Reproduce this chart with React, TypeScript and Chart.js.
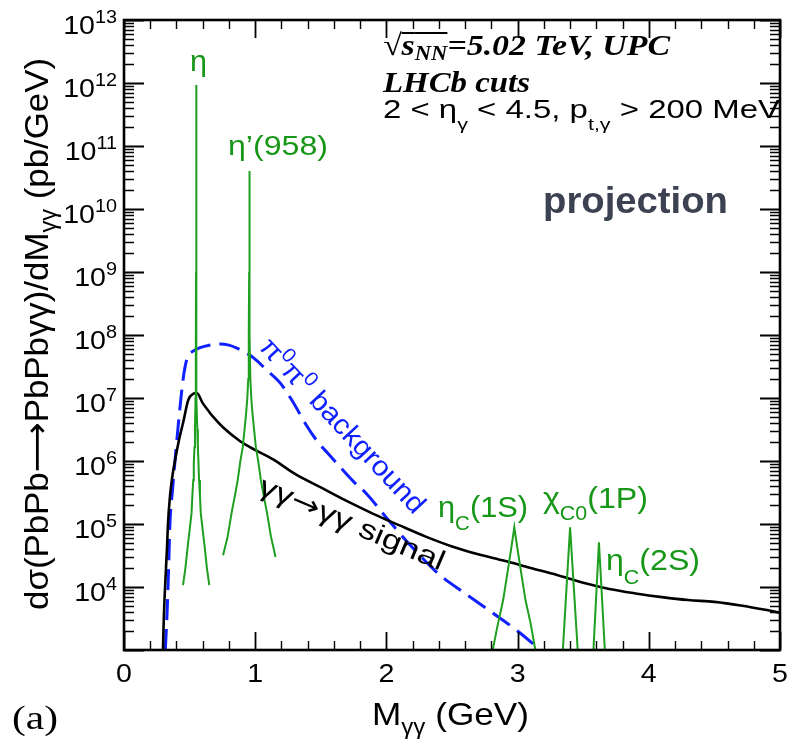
import React, { useEffect, useRef } from 'react';
import { Chart, registerables } from 'chart.js';
Chart.register(...registerables);

// ---------------- data (M in GeV, dσ/dM in pb/GeV) ----------------
const signalMass = [0.297, 0.303, 0.313, 0.328, 0.335, 0.35, 0.37, 0.39, 0.42, 0.45, 0.49, 0.53, 0.555, 0.60, 0.65, 0.68, 0.75, 0.88, 0.96, 1.14, 1.30, 1.50, 1.70, 1.90, 2.10, 2.30, 2.50, 2.70, 2.90, 3.10, 3.30, 3.50, 3.70, 3.90, 4.10, 4.30, 4.50, 4.70, 4.90, 5.00];
const signalXsec = [1.0e3, 3.0e3, 1.0e4, 4.3e4, 1.0e5, 2.7e5, 6.0e5, 1.05e6, 2.2e6, 4.0e6, 9.3e6, 1.17e7, 1.2e7, 8.3e6, 6.0e6, 5.0e6, 3.5e6, 2.1e6, 1.66e6, 1.05e6, 6.3e5, 3.8e5, 2.3e5, 1.45e5, 9.5e4, 6.3e4, 4.4e4, 3.3e4, 2.6e4, 2.0e4, 1.55e4, 1.17e4, 9.3e3, 7.9e3, 6.9e3, 6.2e3, 5.8e3, 5.1e3, 4.3e3, 3.9e3];

const bkgMass = [0.315, 0.33, 0.34, 0.35, 0.37, 0.41, 0.45, 0.48, 0.53, 0.58, 0.65, 0.73, 0.80, 0.86, 0.93, 0.99, 1.09, 1.19, 1.29, 1.39, 1.47, 1.55, 1.65, 1.75, 1.85, 2.00, 2.20, 2.40, 2.60, 2.80, 3.00, 3.17, 3.25];
const bkgXsec = [1.0e3, 4.8e3, 2.0e4, 1.0e5, 3.5e5, 3.1e6, 1.95e7, 4.2e7, 5.6e7, 6.3e7, 6.9e7, 7.2e7, 6.9e7, 6.2e7, 5.2e7, 4.3e7, 2.75e7, 1.74e7, 8.5e6, 3.7e6, 2.1e6, 1.35e6, 7.9e5, 4.7e5, 3.0e5, 1.26e5, 4.2e4, 1.6e4, 7.9e3, 4.0e3, 2.0e3, 1.0e3, 7.0e2];

const etaMass = [0.45, 0.468, 0.485, 0.50, 0.515, 0.521, 0.528, 0.532, 0.537, 0.541, 0.545, 0.5475, 0.549, 0.5497, 0.55, 0.5503, 0.551, 0.5525, 0.555, 0.559, 0.563, 0.568, 0.572, 0.579, 0.585, 0.60, 0.615, 0.632, 0.65];
const etaXsec = [1.07e4, 2.0e4, 4.3e4, 8.0e4, 1.5e5, 2.8e5, 5.0e5, 9.0e5, 1.66e6, 3.2e6, 1.0e7, 6.0e7, 1.0e9, 2.0e10, 9.3e11, 2.0e10, 1.0e9, 6.0e7, 1.0e7, 3.2e6, 1.66e6, 9.0e5, 5.0e5, 2.8e5, 1.5e5, 8.0e4, 4.3e4, 2.0e4, 1.07e4];

const etaPrimeMass = [0.755, 0.79, 0.82, 0.845, 0.867, 0.887, 0.905, 0.919, 0.931, 0.94, 0.947, 0.951, 0.954, 0.955, 0.956, 0.959, 0.963, 0.970, 0.979, 0.991, 1.005, 1.023, 1.043, 1.065, 1.09, 1.12, 1.155];
const etaPrimeXsec = [3.2e4, 6.3e4, 1.5e5, 2.8e5, 5.0e5, 1.0e6, 1.66e6, 3.2e6, 5.8e6, 1.0e7, 2.0e7, 1.0e8, 1.0e9, 4.0e10, 1.0e9, 1.0e8, 2.0e7, 1.0e7, 5.8e6, 3.2e6, 1.66e6, 1.0e6, 5.0e5, 2.8e5, 1.5e5, 6.3e4, 3.0e4];

const etac1sMass = [2.78, 2.81, 2.85, 2.89, 2.93, 2.955, 2.975, 2.995, 3.02, 3.06, 3.10, 3.135, 3.165];
const etac1sXsec = [5.0e2, 1.0e3, 2.6e3, 6.2e3, 2.1e4, 4.6e4, 8.9e4, 4.6e4, 2.1e4, 6.2e3, 2.6e3, 1.0e3, 5.0e2];

const chic0Mass = [3.338, 3.345, 3.40, 3.458, 3.465];
const chic0Xsec = [7.0e2, 1.0e3, 8.9e4, 1.0e3, 7.0e2];

const etac2sMass = [3.572, 3.578, 3.62, 3.665, 3.672];
const etac2sXsec = [7.0e2, 1.0e3, 5.1e4, 1.0e3, 7.0e2];

const xTickValues = [0, 1, 2, 3, 4, 5];
const xTickLabels = ['0', '1', '2', '3', '4', '5'];
const yTickValues = [1e4, 1e5, 1e6, 1e7, 1e8, 1e9, 1e10, 1e11, 1e12, 1e13];
const yTickExponents = ['4', '5', '6', '7', '8', '9', '10', '11', '12', '13'];

// ---------------- styling ----------------
const SANS = '"Liberation Sans", Arial, Helvetica, sans-serif';
const SERIF = '"Liberation Serif", "Times New Roman", serif';
const DEJAVU = '"DejaVu Sans", sans-serif';
const GREEN = '#1f9f1f';
const GREEN_TXT = '#179717';
const BLUE = '#1020ff';

type Seg = { t: string; f: string; dy?: number; ol?: number };

function drawRich(
  ctx: CanvasRenderingContext2D,
  segs: Seg[],
  x: number,
  y: number,
  color: string,
  opt: { rot?: number; width?: number; sx?: number; align?: 'left' | 'right' | 'center' } = {}
) {
  ctx.save();
  let natural = 0;
  for (const s of segs) {
    ctx.font = s.f;
    natural += ctx.measureText(s.t).width;
  }
  const sx = opt.width ? opt.width / natural : opt.sx ?? 1;
  ctx.translate(x, y);
  if (opt.rot) ctx.rotate(opt.rot);
  ctx.scale(sx, 1);
  let cx = 0;
  if (opt.align === 'right') cx = -natural;
  else if (opt.align === 'center') cx = -natural / 2;
  ctx.fillStyle = color;
  ctx.textAlign = 'left';
  ctx.textBaseline = 'alphabetic';
  for (const s of segs) {
    ctx.font = s.f;
    const w = ctx.measureText(s.t).width;
    ctx.fillText(s.t, cx, s.dy ?? 0);
    if (s.ol !== undefined) ctx.fillRect(cx, s.ol, w, 2);
    cx += w;
  }
  ctx.restore();
}

const overlay = {
  id: 'overlay',
  afterDraw(chart: any) {
    const ctx: CanvasRenderingContext2D = chart.ctx;
    const xs = chart.scales.x;
    const ys = chart.scales.y;
    const a = chart.chartArea;
    ctx.save();
    ctx.strokeStyle = '#000';
    ctx.lineCap = 'butt';

    // x ticks (bottom and top, pointing inward)
    for (let i = 0; i <= 25; i++) {
      const v = i / 5;
      const px = Math.round(xs.getPixelForValue(v)) + 0.5;
      const major = i % 5 === 0;
      const len = major ? 18 : 9;
      ctx.lineWidth = major ? 1.8 : 1.4;
      ctx.beginPath();
      ctx.moveTo(px, a.bottom);
      ctx.lineTo(px, a.bottom - len);
      ctx.moveTo(px, a.top);
      ctx.lineTo(px, a.top + len);
      ctx.stroke();
    }
    // y ticks (left and right)
    for (let n = 3; n <= 13; n++) {
      for (let k = 1; k <= 9; k++) {
        if (n === 13 && k > 1) break;
        const v = k * Math.pow(10, n);
        const py = Math.round(ys.getPixelForValue(v)) + 0.5;
        const major = k === 1;
        const len = major ? 20 : 10;
        ctx.lineWidth = major ? 1.8 : 1.3;
        ctx.beginPath();
        ctx.moveTo(a.left, py);
        ctx.lineTo(a.left + len, py);
        ctx.moveTo(a.right, py);
        ctx.lineTo(a.right - len, py);
        ctx.stroke();
      }
    }
    // frame
    ctx.lineWidth = 2.6;
    ctx.strokeRect(a.left, a.top, a.right - a.left, a.bottom - a.top);
    ctx.restore();

    // x tick labels
    xTickValues.forEach((v, i) => {
      drawRich(ctx, [{ t: xTickLabels[i], f: `26px ${SANS}` }], xs.getPixelForValue(v), 682, '#000', { align: 'center', sx: 1.1 });
    });
    // y tick labels 10^n
    yTickValues.forEach((v, i) => {
      const py = ys.getPixelForValue(v);
      drawRich(
        ctx,
        [
          { t: '10', f: `26px ${SANS}` },
          { t: yTickExponents[i], f: `18px ${SANS}`, dy: -11 },
        ],
        117,
        py + 14,
        '#000',
        { align: 'right', sx: 1.1 }
      );
    });

    // axis titles
    drawRich(
      ctx,
      [
        { t: 'dσ(PbPb', f: `34px ${SANS}` },
        { t: '⟶', f: `34px ${DEJAVU}` },
        { t: 'PbPbγγ)/dM', f: `34px ${SANS}` },
        { t: 'γγ', f: `23px ${SANS}`, dy: 8 },
        { t: ' (pb/GeV)', f: `34px ${SANS}` },
      ],
      48,
      610,
      '#000',
      { rot: -Math.PI / 2, width: 552 }
    );
    drawRich(
      ctx,
      [
        { t: 'M', f: `32px ${SANS}` },
        { t: 'γγ', f: `22px ${SANS}`, dy: 9 },
        { t: ' (GeV)', f: `32px ${SANS}` },
      ],
      372,
      725,
      '#000',
      { width: 157 }
    );
    drawRich(ctx, [{ t: '(a)', f: `34px ${SERIF}` }], 12, 729, '#000', { width: 46 });

    // header annotations
    const BI = `bold italic 30px ${SERIF}`;
    drawRich(
      ctx,
      [
        { t: '√', f: BI },
        { t: 's', f: BI, ol: -23 },
        { t: 'NN', f: `bold italic 20px ${SERIF}`, dy: 5, ol: -23 },
        { t: '=5.02 TeV, UPC', f: BI },
      ],
      383,
      55,
      '#000',
      { width: 287 }
    );
    drawRich(ctx, [{ t: 'LHCb cuts', f: BI }], 383, 92, '#000', { width: 147 });
    drawRich(
      ctx,
      [
        { t: '2 < η', f: `26px ${SANS}` },
        { t: 'γ', f: `17px ${SANS}`, dy: 12 },
        { t: ' < 4.5, p', f: `26px ${SANS}` },
        { t: 't,γ', f: `17px ${SANS}`, dy: 12 },
        { t: ' > 200 MeV', f: `26px ${SANS}` },
      ],
      383,
      118,
      '#000',
      { width: 397 }
    );
    drawRich(ctx, [{ t: 'projection', f: `bold 37px ${SANS}` }], 543, 213, '#3c4252', { width: 185 });

    // resonance labels
    drawRich(ctx, [{ t: 'η', f: `30px ${SANS}` }], 190, 71, GREEN_TXT, { width: 17 });
    drawRich(ctx, [{ t: 'η’(958)', f: `28px ${SANS}` }], 228, 155, GREEN_TXT, { width: 100 });
    drawRich(
      ctx,
      [
        { t: 'η', f: `30px ${SANS}` },
        { t: 'C', f: `20px ${SANS}`, dy: 13 },
        { t: '(1S)', f: `30px ${SANS}` },
      ],
      438,
      517,
      GREEN_TXT,
      { width: 90 }
    );
    drawRich(
      ctx,
      [
        { t: 'χ', f: `30px ${SANS}` },
        { t: 'C0', f: `20px ${SANS}`, dy: 12 },
        { t: '(1P)', f: `30px ${SANS}` },
      ],
      543,
      508,
      GREEN_TXT,
      { width: 105 }
    );
    drawRich(
      ctx,
      [
        { t: 'η', f: `30px ${SANS}` },
        { t: 'C', f: `20px ${SANS}`, dy: 14 },
        { t: '(2S)', f: `30px ${SANS}` },
      ],
      606,
      570,
      GREEN_TXT,
      { width: 94 }
    );

    // curve labels
    drawRich(
      ctx,
      [
        { t: 'π', f: `28px ${SANS}` },
        { t: '0', f: `20px ${SANS}`, dy: -11 },
        { t: 'π', f: `28px ${SANS}` },
        { t: '0', f: `20px ${SANS}`, dy: -11 },
        { t: ' background', f: `28px ${SANS}` },
      ],
      258,
      348,
      BLUE,
      { rot: (47 * Math.PI) / 180, width: 229 }
    );
    drawRich(
      ctx,
      [
        { t: 'γγ', f: `28px ${SANS}` },
        { t: '→', f: `28px ${DEJAVU}` },
        { t: 'γγ signal', f: `28px ${SANS}` },
      ],
      257,
      493,
      '#000',
      { rot: (23 * Math.PI) / 180, width: 199 }
    );
  },
};

const pts = (xs: number[], ys: number[]) => xs.map((x, i) => ({ x, y: ys[i] }));

export default function App() {
  const ref = useRef<HTMLCanvasElement>(null);
  useEffect(() => {
    const peak = (label: string, xs: number[], ys: number[]) => ({
      label,
      data: pts(xs, ys),
      borderColor: GREEN,
      borderWidth: 2,
      pointRadius: 0,
      tension: 0,
      fill: false,
    });
    const chart = new Chart(ref.current as HTMLCanvasElement, {
      type: 'line',
      data: {
        datasets: [
          peak('η', etaMass, etaXsec),
          peak('η′(958)', etaPrimeMass, etaPrimeXsec),
          peak('ηc(1S)', etac1sMass, etac1sXsec),
          peak('χc0(1P)', chic0Mass, chic0Xsec),
          peak('ηc(2S)', etac2sMass, etac2sXsec),
          {
            label: 'γγ→γγ signal',
            data: pts(signalMass, signalXsec),
            borderColor: '#000',
            borderWidth: 2.6,
            pointRadius: 0,
            cubicInterpolationMode: 'monotone',
            fill: false,
          },
          {
            label: 'π0π0 background',
            data: pts(bkgMass, bkgXsec),
            borderColor: BLUE,
            borderWidth: 3,
            borderDash: [21, 9],
            pointRadius: 0,
            cubicInterpolationMode: 'monotone',
            fill: false,
          },
        ],
      } as any,
      options: {
        responsive: false,
        animation: false,
        devicePixelRatio: 1,
        events: [],
        layout: { padding: { left: 124, top: 20, right: 18, bottom: 89 } },
        plugins: { legend: { display: false }, tooltip: { enabled: false } },
        scales: {
          x: { type: 'linear', min: 0, max: 5, display: false },
          y: { type: 'logarithmic', min: 1e3, max: 1e13, display: false },
        },
      } as any,
      plugins: [overlay],
    });
    return () => chart.destroy();
  }, []);
  return (
    <div style={{ position: 'absolute', left: 0, top: 0, width: 798, height: 739, background: '#fff' }}>
      <canvas ref={ref} width={798} height={739} style={{ display: 'block' }} />
    </div>
  );
}
